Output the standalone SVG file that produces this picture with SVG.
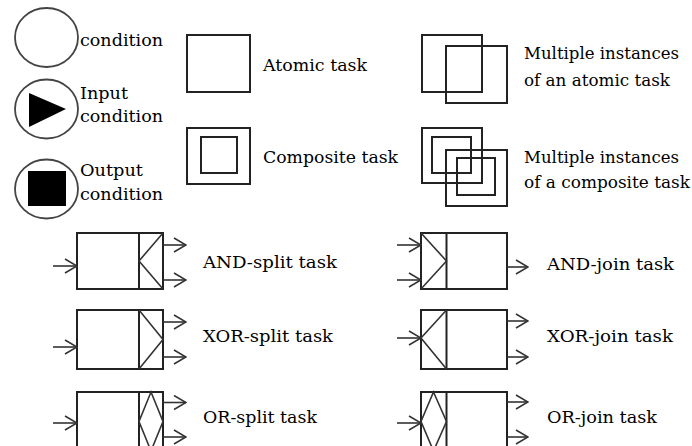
<svg xmlns="http://www.w3.org/2000/svg" width="692" height="446" viewBox="0 0 692 446">
<style>
.bg{fill:#fff}
.cond{fill:#fff;stroke:#444;stroke-width:1.8}
.box{fill:none;stroke:#222;stroke-width:2}
.sym{fill:none;stroke:#333;stroke-width:1.6;stroke-linejoin:miter}
.arr{fill:none;stroke:#333;stroke-width:1.6}
.lbl{font-family:"DejaVu Serif","Liberation Serif",serif;font-size:16px;fill:#000}
</style>
<defs>
<marker id="open" viewBox="0 0 14 16" refX="13" refY="8" markerWidth="14" markerHeight="16" markerUnits="userSpaceOnUse" orient="auto">
<path d="M1,1 L13,8 L1,15" fill="none" stroke="#333" stroke-width="1.6"/>
</marker>
</defs>
<rect class="bg" x="0" y="0" width="692" height="446"/>

<g id="condition">
<ellipse class="cond" cx="46.5" cy="37.5" rx="31.5" ry="29.5"/>
<text class="lbl" x="80" y="46" textLength="83" lengthAdjust="spacingAndGlyphs">condition</text>
</g>
<g id="input-condition">
<ellipse class="cond" cx="46.5" cy="109" rx="31.5" ry="29.5"/>
<polygon points="29,93 29,127 66,109" fill="#000"/>
<text class="lbl" x="80" y="99" textLength="48" lengthAdjust="spacingAndGlyphs">Input</text>
<text class="lbl" x="80" y="122" textLength="83" lengthAdjust="spacingAndGlyphs">condition</text>
</g>
<g id="output-condition">
<ellipse class="cond" cx="46.5" cy="189" rx="31.5" ry="29.5"/>
<rect x="28" y="171" width="38" height="35" fill="#000"/>
<text class="lbl" x="80" y="176" textLength="63" lengthAdjust="spacingAndGlyphs">Output</text>
<text class="lbl" x="80" y="200" textLength="83" lengthAdjust="spacingAndGlyphs">condition</text>
</g>

<g id="atomic-task">
<rect class="box" x="187" y="35" width="63" height="57"/>
<text class="lbl" x="263" y="71" textLength="104" lengthAdjust="spacingAndGlyphs">Atomic task</text>
</g>
<g id="composite-task">
<rect class="box" x="187" y="128" width="63" height="56"/>
<rect class="box" x="201" y="137" width="36" height="36"/>
<text class="lbl" x="263" y="163" textLength="135" lengthAdjust="spacingAndGlyphs">Composite task</text>
</g>

<g id="multiple-atomic">
<rect class="box" x="422" y="35" width="60" height="57"/>
<rect class="box" x="446" y="46" width="61" height="57"/>
<text class="lbl" x="524" y="59" textLength="155" lengthAdjust="spacingAndGlyphs">Multiple instances</text>
<text class="lbl" x="524" y="86" textLength="146" lengthAdjust="spacingAndGlyphs">of an atomic task</text>
</g>
<g id="multiple-composite">
<rect class="box" x="422" y="128" width="60" height="55"/>
<rect class="box" x="432" y="137" width="39" height="36"/>
<rect class="box" x="446" y="150" width="61" height="56"/>
<rect class="box" x="457" y="158" width="38" height="37"/>
<text class="lbl" x="524" y="163" textLength="155" lengthAdjust="spacingAndGlyphs">Multiple instances</text>
<text class="lbl" x="524" y="188" textLength="166" lengthAdjust="spacingAndGlyphs">of a composite task</text>
</g>

<g id="and-split">
<rect class="box" x="77" y="233" width="86" height="56"/>
<line class="box" x1="139" y1="233" x2="139" y2="289"/>
<polyline class="sym" points="163,233 139,261 163,289"/>
<text class="lbl" x="203" y="268" textLength="134" lengthAdjust="spacingAndGlyphs">AND-split  task</text>
</g>
<g id="xor-split">
<rect class="box" x="77" y="310" width="86" height="59"/>
<line class="box" x1="139" y1="310" x2="139" y2="369"/>
<polyline class="sym" points="139,310 163,339.5 139,369"/>
<text class="lbl" x="203" y="342" textLength="130" lengthAdjust="spacingAndGlyphs">XOR-split task</text>
</g>
<g id="or-split">
<rect class="box" x="77" y="392" width="86" height="59"/>
<line class="box" x1="139" y1="392" x2="139" y2="451"/>
<polygon class="sym" points="151,392 163,421.5 151,451 139,421.5"/>
<text class="lbl" x="203" y="423" textLength="114" lengthAdjust="spacingAndGlyphs">OR-split task</text>
</g>

<g id="and-join">
<rect class="box" x="421" y="233" width="86" height="56"/>
<line class="box" x1="446.5" y1="233" x2="446.5" y2="289"/>
<polyline class="sym" points="421,233 446.5,261 421,289"/>
<text class="lbl" x="547" y="270" textLength="127" lengthAdjust="spacingAndGlyphs">AND-join task</text>
</g>
<g id="xor-join">
<rect class="box" x="421" y="310" width="86" height="59"/>
<line class="box" x1="446.5" y1="310" x2="446.5" y2="369"/>
<polyline class="sym" points="446.5,310 421,338 446.5,369"/>
<text class="lbl" x="547" y="342" textLength="126" lengthAdjust="spacingAndGlyphs">XOR-join task</text>
</g>
<g id="or-join">
<rect class="box" x="421" y="392" width="86" height="59"/>
<line class="box" x1="446.5" y1="392" x2="446.5" y2="451"/>
<polygon class="sym" points="433.5,392 446.5,421.5 433.5,451 421,421.5"/>
<text class="lbl" x="547" y="423" textLength="110" lengthAdjust="spacingAndGlyphs">OR-join task</text>
</g>

<g id="connectors">
<line class="arr" x1="53" y1="266" x2="77" y2="266" marker-end="url(#open)"/>
<line class="arr" x1="163" y1="245" x2="186" y2="245" marker-end="url(#open)"/>
<line class="arr" x1="163" y1="280" x2="186" y2="280" marker-end="url(#open)"/>
<line class="arr" x1="53" y1="347" x2="77" y2="347" marker-end="url(#open)"/>
<line class="arr" x1="163" y1="322" x2="186" y2="322" marker-end="url(#open)"/>
<line class="arr" x1="163" y1="357" x2="186" y2="357" marker-end="url(#open)"/>
<line class="arr" x1="53" y1="423" x2="77" y2="423" marker-end="url(#open)"/>
<line class="arr" x1="163" y1="402.5" x2="186" y2="402.5" marker-end="url(#open)"/>
<line class="arr" x1="163" y1="437" x2="186" y2="437" marker-end="url(#open)"/>
<line class="arr" x1="397" y1="245" x2="421" y2="245" marker-end="url(#open)"/>
<line class="arr" x1="397" y1="280" x2="421" y2="280" marker-end="url(#open)"/>
<line class="arr" x1="507" y1="267" x2="528" y2="267" marker-end="url(#open)"/>
<line class="arr" x1="397" y1="338" x2="421" y2="338" marker-end="url(#open)"/>
<line class="arr" x1="507" y1="321" x2="528" y2="321" marker-end="url(#open)"/>
<line class="arr" x1="507" y1="357" x2="528" y2="357" marker-end="url(#open)"/>
<line class="arr" x1="397" y1="423" x2="421" y2="423" marker-end="url(#open)"/>
<line class="arr" x1="507" y1="402" x2="528" y2="402" marker-end="url(#open)"/>
<line class="arr" x1="507" y1="437" x2="528" y2="437" marker-end="url(#open)"/>
</g>
</svg>
